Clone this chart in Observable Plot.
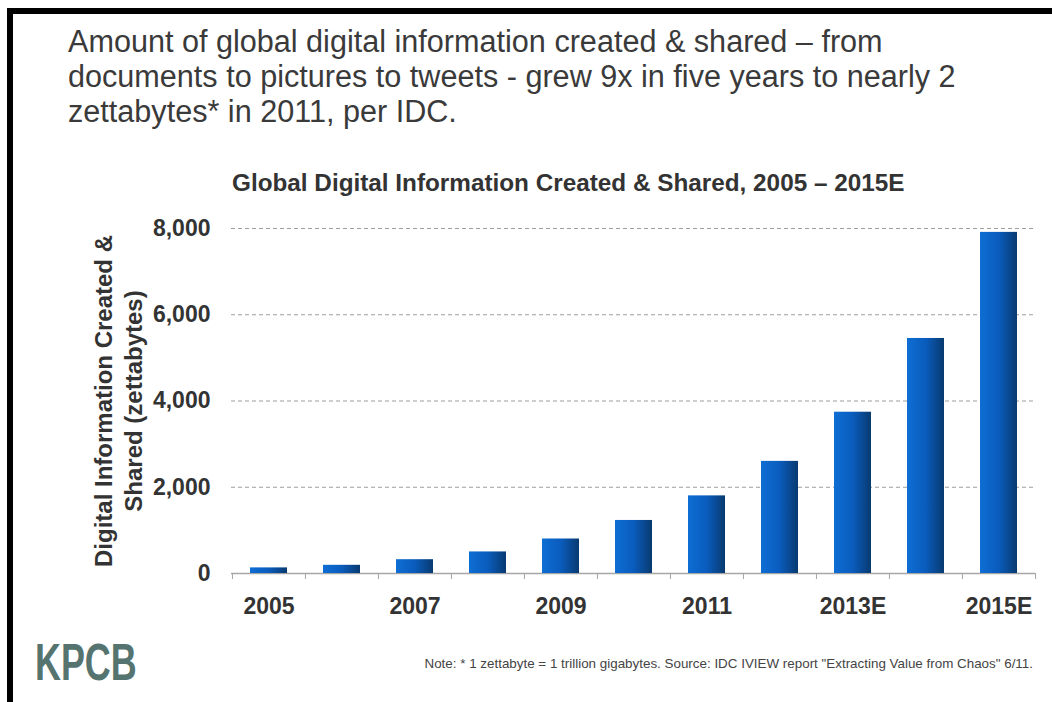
<!DOCTYPE html>
<html>
<head>
<meta charset="utf-8">
<script src="https://cdn.jsdelivr.net/npm/d3@7"></script>
<script src="https://cdn.jsdelivr.net/npm/@observablehq/plot@0.6"></script>
<style>
  html, body { margin: 0; padding: 0; background: #fff; }
  #page { position: relative; width: 1052px; height: 702px; background: #fff; overflow: hidden;
          font-family: "Liberation Sans", Arial, sans-serif; }
  #bt { position: absolute; left: 7px; top: 8px; width: 1045px; height: 6px; background: #000; }
  #bl { position: absolute; left: 7px; top: 8px; width: 6px; height: 694px; background: #000; }
  #headline { position: absolute; left: 68px; top: 24px; font-size: 30.6px; line-height: 35px; color: #3a3a3a; white-space: nowrap; }
  #ctitle { position: absolute; left: 232px; top: 171px; font-size: 24.3px; line-height: 24px; font-weight: bold; color: #333; white-space: nowrap; }
  #chart { position: absolute; left: 0; top: 150px; }
  #logo { position: absolute; left: 35px; top: 636px; font-size: 52px; line-height: 52px; font-weight: bold; color: #56746f;
          transform: scaleX(0.69); transform-origin: left top; white-space: nowrap; }
  #note { position: absolute; right: 19px; top: 657px; font-size: 13.4px; line-height: 13px; color: #444; white-space: nowrap; }
</style>
</head>
<body>
<div id="page">
  <div id="bt"></div>
  <div id="bl"></div>
  <div id="headline">Amount of global digital information created &amp; shared – from<br>documents to pictures to tweets - grew 9x in five years to nearly 2<br>zettabytes* in 2011, per IDC.</div>
  <div id="ctitle">Global Digital Information Created &amp; Shared, 2005 – 2015E</div>
  <div id="chart"></div>
  <div id="logo">KPCB</div>
  <div id="note">Note: * 1 zettabyte = 1 trillion gigabytes. Source: IDC IVIEW report "Extracting Value from Chaos" 6/11.</div>
</div>
<script>
const years = ["2005","2006","2007","2008","2009","2010","2011","2012","2013E","2014E","2015E"];
const values = [130, 190, 320, 500, 800, 1230, 1800, 2600, 3740, 5450, 7910];
const yTicks = [0, 2000, 4000, 6000, 8000];
const gridValues = [2000, 4000, 6000, 8000];
const xTickLabels = ["2005","2007","2009","2011","2013E","2015E"];
const yLabel = "Digital Information Created &\nShared (zettabytes)";

const data = years.map((year, i) => ({year, value: values[i]}));

const W = 1052, H = 490, mL = 231, mR = 17, mT = 78, mB = 67;
const step = (W - mL - mR) / years.length;

const chart = Plot.plot({
  width: W, height: H,
  marginLeft: mL, marginRight: mR, marginTop: mT, marginBottom: mB,
  style: {fontFamily: "'Liberation Sans', Arial, sans-serif", background: "transparent", overflow: "visible"},
  x: {domain: years, paddingInner: 0.5, paddingOuter: 0.25, label: null},
  y: {domain: [0, 8000], label: null},
  marks: [
    Plot.ruleY(gridValues, {stroke: "#9e9e9e", strokeWidth: 1.2, strokeDasharray: "4,3"}),
    Plot.ruleY([0], {stroke: "#a6a6a6", strokeWidth: 1.5}),
    Plot.ruleX(years, {x: d => d, y1: 0, y2: 0, insetBottom: -6, dx: -step / 2, stroke: "#a6a6a6"}),
    Plot.ruleX([years[years.length - 1]], {x: d => d, y1: 0, y2: 0, insetBottom: -6, dx: step / 2, stroke: "#a6a6a6"}),
    Plot.barY(data, {x: "year", y: "value", fill: "url(#barGrad)"}),
    Plot.axisY({ticks: yTicks, tickFormat: d3.format(","), tickSize: 0, tickPadding: 21,
                fontSize: 23, fontWeight: "bold", fill: "#333", label: null}),
    Plot.axisX({ticks: xTickLabels, tickSize: 0, tickPadding: 24,
                fontSize: 23, fontWeight: "bold", fill: "#333", label: null}),
    Plot.text([yLabel], {frameAnchor: "left", textAnchor: "middle", dx: -114, rotate: -90, text: d => d,
                fontSize: 24, fontWeight: "bold", lineHeight: 1.25, fill: "#333"})
  ]
});

const defs = d3.select(chart).insert("defs", ":first-child");
const grad = defs.append("linearGradient").attr("id", "barGrad")
  .attr("x1", "0").attr("x2", "1").attr("y1", "0").attr("y2", "0");
grad.append("stop").attr("offset", "0").attr("stop-color", "#0e6ed4");
grad.append("stop").attr("offset", "0.5").attr("stop-color", "#0a5cbd");
grad.append("stop").attr("offset", "1").attr("stop-color", "#083a70");

document.getElementById("chart").appendChild(chart);
</script>
</body>
</html>
